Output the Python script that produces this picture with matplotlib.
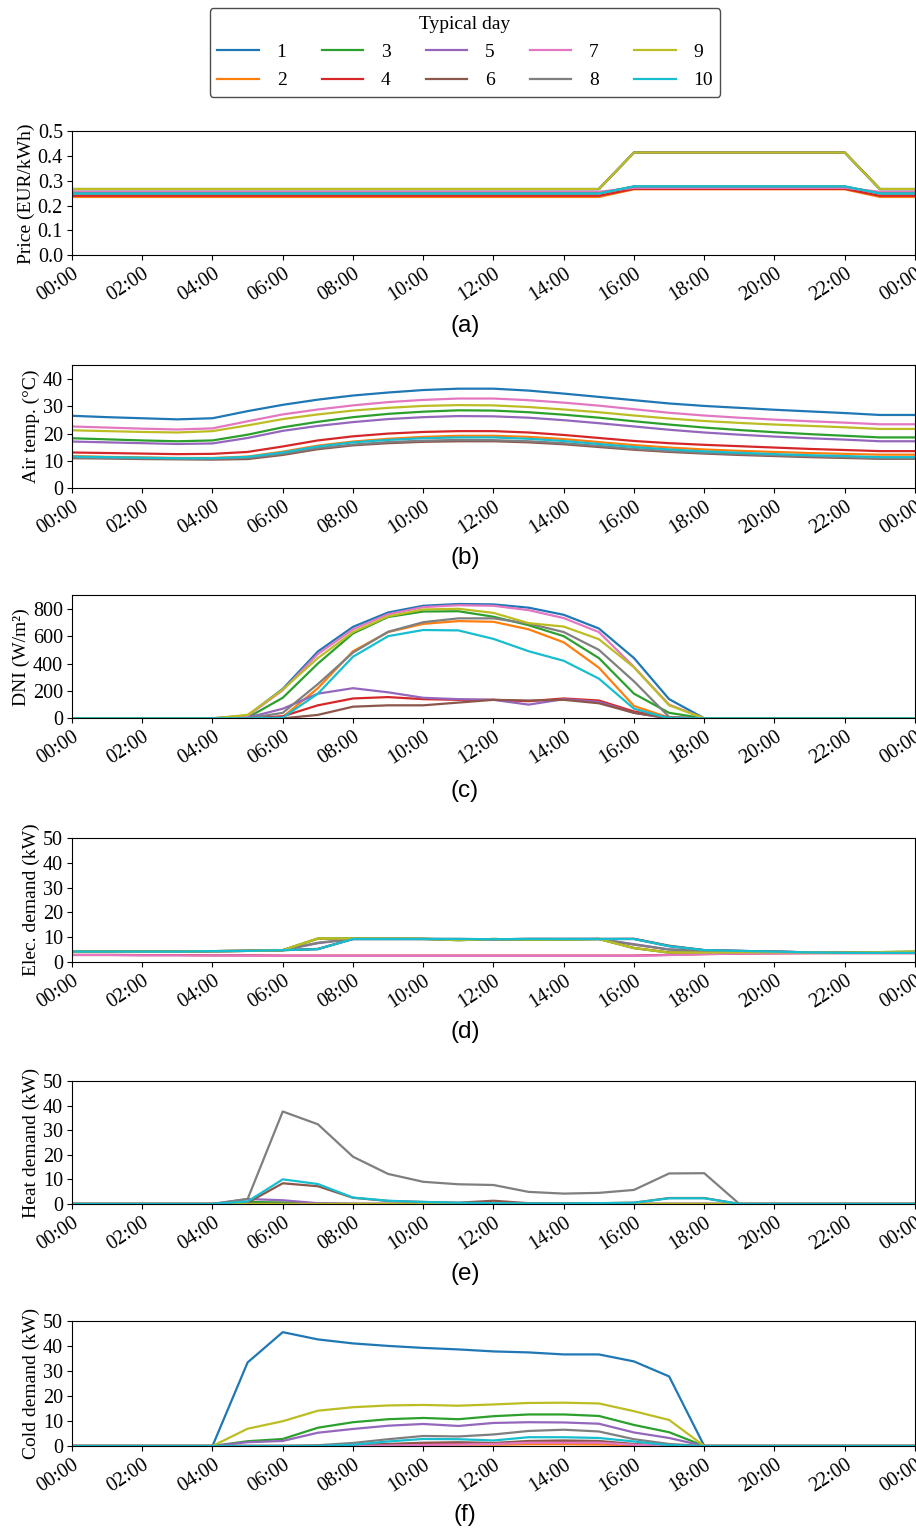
import matplotlib.pyplot as plt

plt.rcParams['font.family'] = ['Liberation Serif', 'DejaVu Serif']

### hourly points of one typical day, 00:00 .. 24:00
hours = list(range(25))
tick_hours = [0, 2, 4, 6, 8, 10, 12, 14, 16, 18, 20, 22, 24]
tick_labels = ["00:00", "02:00", "04:00", "06:00", "08:00", "10:00", "12:00",
               "14:00", "16:00", "18:00", "20:00", "22:00", "00:00"]
day_names = ["1", "2", "3", "4", "5", "6", "7", "8", "9", "10"]

### (a) electricity price, EUR/kWh
price = [
    [0.267, 0.267, 0.267, 0.267, 0.267, 0.267, 0.267, 0.267, 0.267, 0.267, 0.267, 0.267, 0.267, 0.267, 0.267, 0.267, 0.415, 0.415, 0.415, 0.415, 0.415, 0.415, 0.415, 0.267, 0.267],
    [0.235, 0.235, 0.235, 0.235, 0.235, 0.235, 0.235, 0.235, 0.235, 0.235, 0.235, 0.235, 0.235, 0.235, 0.235, 0.235, 0.266, 0.266, 0.266, 0.266, 0.266, 0.266, 0.266, 0.235, 0.235],
    [0.267, 0.267, 0.267, 0.267, 0.267, 0.267, 0.267, 0.267, 0.267, 0.267, 0.267, 0.267, 0.267, 0.267, 0.267, 0.267, 0.415, 0.415, 0.415, 0.415, 0.415, 0.415, 0.415, 0.267, 0.267],
    [0.240, 0.240, 0.240, 0.240, 0.240, 0.240, 0.240, 0.240, 0.240, 0.240, 0.240, 0.240, 0.240, 0.240, 0.240, 0.240, 0.268, 0.268, 0.268, 0.268, 0.268, 0.268, 0.268, 0.240, 0.240],
    [0.267, 0.267, 0.267, 0.267, 0.267, 0.267, 0.267, 0.267, 0.267, 0.267, 0.267, 0.267, 0.267, 0.267, 0.267, 0.267, 0.415, 0.415, 0.415, 0.415, 0.415, 0.415, 0.415, 0.267, 0.267],
    [0.250, 0.250, 0.250, 0.250, 0.250, 0.250, 0.250, 0.250, 0.250, 0.250, 0.250, 0.250, 0.250, 0.250, 0.250, 0.250, 0.277, 0.277, 0.277, 0.277, 0.277, 0.277, 0.277, 0.250, 0.250],
    [0.256, 0.256, 0.256, 0.256, 0.256, 0.256, 0.256, 0.256, 0.256, 0.256, 0.256, 0.256, 0.256, 0.256, 0.256, 0.256, 0.272, 0.272, 0.272, 0.272, 0.272, 0.272, 0.272, 0.256, 0.256],
    [0.250, 0.250, 0.250, 0.250, 0.250, 0.250, 0.250, 0.250, 0.250, 0.250, 0.250, 0.250, 0.250, 0.250, 0.250, 0.250, 0.277, 0.277, 0.277, 0.277, 0.277, 0.277, 0.277, 0.250, 0.250],
    [0.267, 0.267, 0.267, 0.267, 0.267, 0.267, 0.267, 0.267, 0.267, 0.267, 0.267, 0.267, 0.267, 0.267, 0.267, 0.267, 0.415, 0.415, 0.415, 0.415, 0.415, 0.415, 0.415, 0.267, 0.267],
    [0.249, 0.249, 0.249, 0.249, 0.249, 0.249, 0.249, 0.249, 0.249, 0.249, 0.249, 0.249, 0.249, 0.249, 0.249, 0.249, 0.278, 0.278, 0.278, 0.278, 0.278, 0.278, 0.278, 0.249, 0.249],
]

### (b) air temperature, degC
air_temp = [
    [26.5, 26.0, 25.6, 25.2, 25.6, 28.2, 30.5, 32.4, 33.9, 35.0, 35.9, 36.4, 36.4, 35.7, 34.6, 33.4, 32.2, 31.0, 30.1, 29.4, 28.7, 28.1, 27.5, 26.8, 26.8],
    [11.8, 11.5, 11.3, 11.1, 11.1, 11.6, 13.4, 15.6, 17.1, 18.1, 18.8, 19.2, 19.2, 18.8, 18.0, 16.9, 15.8, 14.9, 14.2, 13.7, 13.3, 12.9, 12.6, 12.3, 12.3],
    [18.3, 17.9, 17.5, 17.2, 17.5, 19.6, 22.3, 24.3, 26.0, 27.2, 28.0, 28.5, 28.4, 27.8, 26.9, 25.8, 24.5, 23.3, 22.2, 21.3, 20.5, 19.8, 19.2, 18.6, 18.6],
    [13.1, 12.9, 12.7, 12.5, 12.6, 13.3, 15.3, 17.5, 19.0, 20.0, 20.6, 20.9, 20.9, 20.4, 19.5, 18.4, 17.3, 16.5, 15.9, 15.4, 14.9, 14.4, 14.0, 13.6, 13.6],
    [17.1, 16.8, 16.5, 16.2, 16.4, 18.4, 21.0, 22.8, 24.2, 25.3, 26.0, 26.4, 26.3, 25.8, 24.9, 23.8, 22.6, 21.4, 20.4, 19.6, 18.9, 18.3, 17.8, 17.2, 17.2],
    [11.0, 10.9, 10.7, 10.6, 10.5, 10.7, 12.2, 14.3, 15.7, 16.5, 17.0, 17.2, 17.2, 16.8, 16.1, 15.1, 14.1, 13.3, 12.7, 12.2, 11.8, 11.4, 11.1, 10.8, 10.8],
    [22.6, 22.2, 21.8, 21.5, 21.9, 24.5, 27.0, 28.8, 30.3, 31.5, 32.3, 32.8, 32.8, 32.2, 31.3, 30.2, 28.9, 27.6, 26.6, 25.8, 25.1, 24.5, 24.0, 23.4, 23.4],
    [11.2, 11.1, 10.9, 10.8, 10.8, 11.1, 12.6, 14.7, 16.0, 16.9, 17.4, 17.7, 17.6, 17.2, 16.5, 15.5, 14.4, 13.6, 13.0, 12.5, 12.1, 11.7, 11.4, 11.0, 11.0],
    [21.2, 20.9, 20.6, 20.4, 20.9, 23.0, 25.3, 27.0, 28.4, 29.4, 30.1, 30.4, 30.3, 29.7, 28.8, 27.8, 26.6, 25.5, 24.6, 23.9, 23.3, 22.8, 22.3, 21.7, 21.7],
    [11.6, 11.4, 11.2, 11.0, 11.0, 11.5, 13.1, 15.3, 16.8, 17.7, 18.3, 18.6, 18.6, 18.1, 17.3, 16.2, 15.1, 14.2, 13.5, 13.0, 12.5, 12.1, 11.8, 11.4, 11.4],
]

### (c) direct normal irradiance, W/m2
dni = [
    [0, 0, 0, 0, 0, 20, 215, 488, 668, 773, 822, 835, 832, 808, 756, 656, 440, 140, 0, 0, 0, 0, 0, 0, 0],
    [0, 0, 0, 0, 0, 0, 10, 220, 490, 630, 690, 710, 705, 650, 555, 370, 90, 5, 0, 0, 0, 0, 0, 0, 0],
    [0, 0, 0, 0, 0, 5, 150, 400, 620, 740, 780, 782, 742, 680, 600, 440, 180, 40, 0, 0, 0, 0, 0, 0, 0],
    [0, 0, 0, 0, 0, 0, 15, 95, 145, 155, 140, 135, 135, 125, 145, 130, 50, 5, 0, 0, 0, 0, 0, 0, 0],
    [0, 0, 0, 0, 0, 5, 70, 180, 220, 190, 150, 140, 135, 100, 140, 120, 40, 0, 0, 0, 0, 0, 0, 0, 0],
    [0, 0, 0, 0, 0, 0, 0, 25, 85, 95, 95, 115, 135, 130, 135, 110, 40, 0, 0, 0, 0, 0, 0, 0, 0],
    [0, 0, 0, 0, 0, 18, 205, 470, 650, 760, 812, 826, 822, 790, 732, 630, 375, 100, 0, 0, 0, 0, 0, 0, 0],
    [0, 0, 0, 0, 0, 0, 40, 250, 480, 632, 702, 730, 730, 692, 630, 500, 270, 10, 0, 0, 0, 0, 0, 0, 0],
    [0, 0, 0, 0, 0, 25, 210, 440, 630, 745, 795, 800, 770, 695, 670, 578, 372, 95, 0, 0, 0, 0, 0, 0, 0],
    [0, 0, 0, 0, 0, 0, 5, 180, 450, 600, 645, 642, 580, 490, 420, 290, 70, 0, 0, 0, 0, 0, 0, 0, 0],
]

### (d) electricity demand, kW
elec = [
    [4.2, 4.2, 4.2, 4.2, 4.4, 4.5, 4.8, 5.2, 9.3, 9.3, 9.3, 9.3, 9.2, 9.3, 9.3, 9.3, 9.3, 6.4, 4.8, 4.5, 4.2, 3.9, 3.7, 3.7, 3.7],
    [4.2, 4.2, 4.2, 4.2, 4.4, 4.5, 4.8, 9.4, 9.4, 9.4, 9.3, 8.9, 9.3, 9.0, 9.1, 9.3, 5.7, 3.9, 3.8, 3.9, 3.9, 3.9, 3.8, 4.0, 4.1],
    [4.2, 4.2, 4.2, 4.2, 4.4, 4.5, 4.8, 9.5, 9.5, 9.4, 9.4, 8.8, 9.3, 9.0, 9.1, 9.3, 5.6, 3.8, 3.8, 3.9, 3.9, 3.9, 3.8, 4.0, 4.2],
    [2.9, 2.9, 2.8, 2.8, 2.7, 2.7, 2.6, 2.6, 2.6, 2.6, 2.6, 2.6, 2.6, 2.6, 2.6, 2.6, 2.6, 2.9, 3.2, 3.4, 3.5, 3.6, 3.6, 3.6, 3.6],
    [4.2, 4.2, 4.2, 4.2, 4.4, 4.5, 4.8, 7.6, 9.3, 9.3, 9.3, 9.2, 9.2, 9.3, 9.3, 9.3, 7.2, 5.1, 4.6, 4.4, 4.2, 3.9, 3.7, 3.7, 3.7],
    [4.2, 4.2, 4.2, 4.2, 4.4, 4.5, 4.8, 5.3, 9.3, 9.3, 9.3, 9.3, 9.2, 9.3, 9.3, 9.3, 9.4, 6.6, 4.8, 4.5, 4.2, 3.9, 3.7, 3.7, 3.7],
    [2.8, 2.8, 2.7, 2.7, 2.6, 2.6, 2.5, 2.5, 2.5, 2.5, 2.5, 2.5, 2.5, 2.5, 2.5, 2.5, 2.5, 2.8, 3.2, 3.4, 3.5, 3.6, 3.6, 3.6, 3.6],
    [4.2, 4.2, 4.2, 4.2, 4.4, 4.5, 4.8, 7.8, 9.3, 9.3, 9.3, 9.2, 9.2, 9.3, 9.3, 9.3, 7.0, 5.0, 4.6, 4.4, 4.2, 3.9, 3.7, 3.7, 3.7],
    [4.2, 4.2, 4.2, 4.2, 4.4, 4.5, 4.8, 9.5, 9.5, 9.4, 9.4, 8.8, 9.3, 9.0, 9.1, 9.3, 5.6, 3.8, 3.8, 3.9, 3.9, 3.9, 3.8, 4.0, 4.2],
    [4.2, 4.2, 4.2, 4.2, 4.4, 4.5, 4.8, 5.2, 9.3, 9.3, 9.3, 9.3, 9.2, 9.3, 9.3, 9.3, 9.3, 6.4, 4.8, 4.5, 4.2, 3.9, 3.7, 3.7, 3.7],
]

### (e) heat demand, kW
heat = [
    [0, 0, 0, 0, 0, 0, 0, 0, 0, 0, 0, 0, 0, 0, 0, 0, 0, 0, 0, 0, 0, 0, 0, 0, 0],
    [0, 0, 0, 0, 0, 0.3, 0.2, 0, 0, 0, 0, 0, 0, 0, 0, 0, 0, 0, 0, 0, 0, 0, 0, 0, 0],
    [0, 0, 0, 0, 0, 0.8, 0.6, 0.2, 0, 0, 0, 0, 0, 0, 0, 0, 0, 0, 0, 0, 0, 0, 0, 0, 0],
    [0, 0, 0, 0, 0, 0, 0, 0, 0, 0, 0, 0, 0, 0, 0, 0, 0, 0, 0, 0, 0, 0, 0, 0, 0],
    [0, 0, 0, 0, 0, 2.0, 1.5, 0.3, 0, 0, 0, 0, 0, 0, 0, 0, 0, 0, 0, 0, 0, 0, 0, 0, 0],
    [0, 0, 0, 0, 0, 0.5, 8.4, 7.2, 2.5, 1.2, 0.8, 0.5, 1.3, 0.3, 0.2, 0.3, 0.5, 2.4, 2.4, 0, 0, 0, 0, 0, 0],
    [0, 0, 0, 0, 0, 0, 0, 0, 0, 0, 0, 0, 0, 0, 0, 0, 0, 0, 0, 0, 0, 0, 0, 0, 0],
    [0, 0, 0, 0, 0, 2.0, 37.6, 32.4, 19.2, 12.2, 9.0, 8.0, 7.7, 4.9, 4.2, 4.5, 5.7, 12.4, 12.5, 0, 0, 0, 0, 0, 0],
    [0, 0, 0, 0, 0, 0, 0, 0, 0, 0, 0, 0, 0, 0, 0, 0, 0, 0, 0, 0, 0, 0, 0, 0, 0],
    [0, 0, 0, 0, 0, 1.0, 10.0, 8.1, 2.6, 1.3, 0.8, 0.5, 0.3, 0.2, 0.2, 0.3, 0.5, 2.3, 2.3, 0, 0, 0, 0, 0, 0],
]

### (f) cold demand, kW
cold = [
    [0, 0, 0, 0, 0, 33.4, 45.5, 42.6, 41.0, 40.0, 39.2, 38.6, 37.8, 37.4, 36.6, 36.6, 33.8, 27.8, 0, 0, 0, 0, 0, 0, 0],
    [0, 0, 0, 0, 0, 0, 0, 0, 0.2, 0.4, 0.5, 0.6, 0.5, 0.7, 0.7, 0.6, 0.3, 0, 0, 0, 0, 0, 0, 0, 0],
    [0, 0, 0, 0, 0, 1.9, 2.8, 7.3, 9.5, 10.7, 11.2, 10.7, 11.9, 12.6, 12.6, 12.0, 8.4, 5.5, 0, 0, 0, 0, 0, 0, 0],
    [0, 0, 0, 0, 0, 0, 0, 0, 0.3, 0.6, 0.9, 1.0, 1.0, 1.5, 1.6, 1.4, 0.5, 0, 0, 0, 0, 0, 0, 0, 0],
    [0, 0, 0, 0, 0, 1.5, 2.0, 5.3, 6.8, 8.1, 8.8, 8.0, 9.2, 9.5, 9.4, 8.9, 5.4, 3.2, 0, 0, 0, 0, 0, 0, 0],
    [0, 0, 0, 0, 0, 0, 0, 0, 0.4, 0.8, 1.3, 1.5, 1.2, 2.0, 2.2, 2.0, 0.8, 0, 0, 0, 0, 0, 0, 0, 0],
    [0, 0, 0, 0, 0, 0, 0, 0, 0, 0.2, 0.4, 0.6, 0.8, 1.3, 1.3, 1.3, 0.5, 0, 0, 0, 0, 0, 0, 0, 0],
    [0, 0, 0, 0, 0, 0, 0, 0.3, 1.2, 2.7, 4.0, 3.8, 4.6, 6.0, 6.5, 5.8, 2.7, 0.8, 0, 0, 0, 0, 0, 0, 0],
    [0, 0, 0, 0, 0, 6.9, 9.9, 14.1, 15.5, 16.2, 16.4, 16.1, 16.6, 17.2, 17.3, 17.0, 13.9, 10.4, 0, 0, 0, 0, 0, 0, 0],
    [0, 0, 0, 0, 0, 0, 0, 0, 0.5, 1.8, 2.8, 2.7, 2.2, 3.5, 3.5, 3.2, 1.8, 0.3, 0, 0, 0, 0, 0, 0, 0],
]

panels = [
    (price, "Price (EUR/kWh)", (0, 0.5), [0.0, 0.1, 0.2, 0.3, 0.4, 0.5], "(a)"),
    (air_temp, "Air temp. (\u00b0C)", (0, 45), [0, 10, 20, 30, 40], "(b)"),
    (dni, "DNI (W/m\u00b2)", (0, 900), [0, 200, 400, 600, 800], "(c)"),
    (elec, "Elec. demand (kW)", (0, 50), [0, 10, 20, 30, 40, 50], "(d)"),
    (heat, "Heat demand (kW)", (0, 50), [0, 10, 20, 30, 40, 50], "(e)"),
    (cold, "Cold demand (kW)", (0, 50), [0, 10, 20, 30, 40, 50], "(f)"),
]

### axes rectangles (left, bottom, width, height) and y of the panel letters, in figure fraction
rects = [
    [0.0786, 0.8332, 0.9203, 0.0808],
    [0.0786, 0.6806, 0.9203, 0.0806],
    [0.0786, 0.5302, 0.9203, 0.0806],
    [0.0786, 0.3708, 0.9203, 0.0811],
    [0.0786, 0.2126, 0.9203, 0.0804],
    [0.0786, 0.0543, 0.9203, 0.0818],
]
letter_y = [1 - 326 / 1529, 1 - 558 / 1529, 1 - 791 / 1529,
            1 - 1032 / 1529, 1 - 1274 / 1529, 1 - 1515 / 1529]

fig = plt.figure(figsize=(9.16, 15.29), dpi=100)

handles = []
for k in range(len(panels)):
    data, ylabel, ylim, yticks, letter = panels[k]
    ax = fig.add_axes(rects[k])
    for d in range(len(data)):
        line, = ax.plot(hours, data[d], color="C%d" % d, linewidth=1.6, label=day_names[d])
        if k == 0:
            handles.append(line)
    ax.set_xlim(0, 24)
    ax.set_ylim(ylim)
    ax.set_yticks(yticks)
    if k == 0:
        ax.set_yticklabels(["%.1f" % v for v in yticks])
    ax.set_xticks(tick_hours)
    ax.set_xticklabels(tick_labels, rotation=33, ha="right", rotation_mode="anchor")
    ax.tick_params(labelsize=14.5, pad=3)
    ax.set_ylabel(ylabel, fontsize=14, labelpad=2)
    fig.text(465 / 916, letter_y[k], letter, ha="center", va="center",
             fontsize=17.5, family="Liberation Sans")

leg = fig.legend(handles=handles, loc="upper center", bbox_to_anchor=(465 / 916, 1 - 8 / 1529),
                 ncol=5, title="Typical day", fontsize=14, title_fontsize=14,
                 handlelength=2.15, handletextpad=0.9, columnspacing=1.8,
                 labelspacing=0.55, borderpad=0.4, borderaxespad=0, fancybox=True)
leg.get_frame().set_edgecolor("0.3")
leg.get_frame().set_alpha(1.0)

fig.savefig("out.png", dpi=100)
